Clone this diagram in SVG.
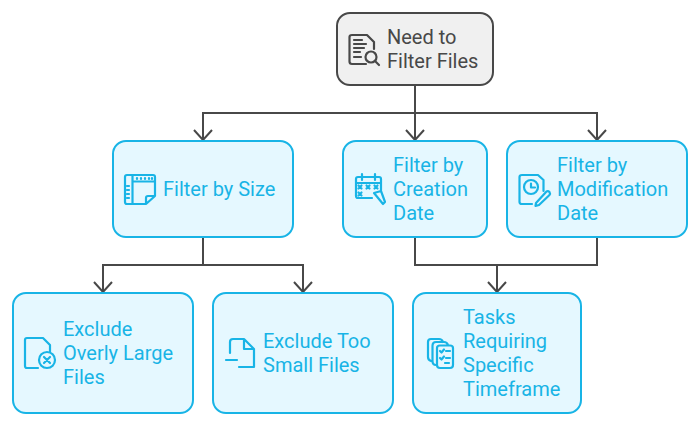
<svg xmlns="http://www.w3.org/2000/svg" width="700" height="426" viewBox="0 0 700 426">
<style>
.b{fill:#e5f8ff;stroke:#18b4e6;stroke-width:2}
.r{fill:#f0f0f0;stroke:#484848;stroke-width:2}
text{font-family:Roboto,"Liberation Sans",sans-serif;font-size:20px;fill:#18b4e6}
.i{fill:none;stroke:#18b4e6;stroke-width:2.2;stroke-linecap:round;stroke-linejoin:round}
.j{fill:none;stroke:#484848;stroke-width:2.2;stroke-linecap:round;stroke-linejoin:round}
.c{fill:none;stroke:#484848;stroke-width:2}
</style>
<rect width="700" height="426" fill="#fff"/>
<g id="connectors">
<path class="c" d="M415 85V112M203 141V113H597V141M415 112V141M203 237V265H103V293M203 265H303V293M415 237V265H597V237M497 265V293"/>
<path class="c" d="M194 130L203 140L212 130M406 130L415 140L424 130M588 130L597 140L606 130M94 282L103 292L112 282M294 282L303 292L312 282M488 282L497 292L506 282"/>
</g>
<g id="need">
<rect class="r" x="337" y="13" width="156" height="72" rx="13"/>
<path class="j" d="M366 64H352Q349.500 64 349.500 61.500V37Q349.500 35 352 35H367L374 42V49M354 40H362M354 44H366M354 48H364M354 52H360M354 57H361"/>
<circle class="j" cx="371" cy="57" r="5.500"/><path class="j" d="M375 61L379 65"/>
<text x="387" y="44" style="fill:#484848">Need to</text>
<text x="387" y="68" style="fill:#484848">Filter Files</text>
</g>
<g id="size">
<rect class="b" x="113" y="141" width="180" height="96" rx="13"/>
<path class="i" d="M127 175H153Q155 175 155 177V196L146 204H127Q125 204 125 202V177Q125 175 127 175ZM132.500 175V204M132.500 181.500H155M146 204V198Q146 196 148 196H155M137 178V179M141 178V179M145 178V179M149 178V179M152 178V179M127 186H129M127 190H129M127 194H129M127 198H129"/>
<text x="163" y="196">Filter by Size</text>
</g>
<g id="creation">
<rect class="b" x="343" y="141" width="144" height="96" rx="13"/>
<path class="i" d="M372 198H358Q356 198 356 196V179Q356 177 358 177H379Q381 177 381 179V190M356 183H381M362 174V180M375 174V180M358.500 185.500L361.500 188.500M361.500 185.500L358.500 188.500M366.500 185.500L369.500 188.500M369.500 185.500L366.500 188.500M374.500 185.500L377.500 188.500M377.500 185.500L374.500 188.500M358.500 192.500L361.500 195.500M361.500 192.500L358.500 195.500M374 193L381 191L385 202L383 204Z"/>
<text x="393" y="172">Filter by</text>
<text x="393" y="196">Creation</text>
<text x="393" y="220">Date</text>
</g>
<g id="modification">
<rect class="b" x="507" y="141" width="180" height="96" rx="13"/>
<path class="i" d="M532 204H522Q519.500 204 519.500 202V177Q519.500 175 522 175H538L543.500 180V191M536 203L546.500 191.500Q548 190.500 549.500 192Q550.500 193.500 549.500 195L539 205L535.500 206Z"/>
<circle class="i" cx="531" cy="187" r="7"/><path class="i" d="M531 183.500V187.500H535"/>
<text x="557" y="172">Filter by</text>
<text x="557" y="196">Modification</text>
<text x="557" y="220">Date</text>
</g>
<g id="large">
<rect class="b" x="13" y="293" width="180" height="120" rx="13"/>
<path class="i" d="M38 368H27Q25 368 25 366V340Q25 338 27 338H43L50 345V352"/>
<circle class="i" cx="47" cy="360" r="8"/><path class="i" d="M44 357L50 363M50 357L44 363"/>
<text x="63" y="336">Exclude</text>
<text x="63" y="360">Overly Large</text>
<text x="63" y="384">Files</text>
</g>
<g id="small">
<rect class="b" x="213" y="293" width="180" height="120" rx="13"/>
<path class="i" d="M230 353V342Q230 339 233 339H244L254 349V367H239M244 339V349H254M226 360H237"/>
<text x="263" y="348">Exclude Too</text>
<text x="263" y="372">Small Files</text>
</g>
<g id="tasks">
<rect class="b" x="413" y="293" width="168" height="120" rx="13"/>
<path class="i" d="M431 361Q428 360 428 357V342Q428 339 431 339H439Q442 339 443 342M436 365Q432.500 365 432.500 361V346Q432.500 342 436 342H444Q447 342 448 345M440 345.500H450Q453 345.500 453 348V365Q453 368 450 368H440Q437 368 437 365V348Q437 345.500 440 345.500ZM440 351L441.500 352.500L444 349.500M440 358L441.500 359.500L444 356.500M446 351H450M446 358H450M445 363H449"/>
<text x="463" y="324">Tasks</text>
<text x="463" y="348">Requiring</text>
<text x="463" y="372">Specific</text>
<text x="463" y="396">Timeframe</text>
</g>
</svg>
